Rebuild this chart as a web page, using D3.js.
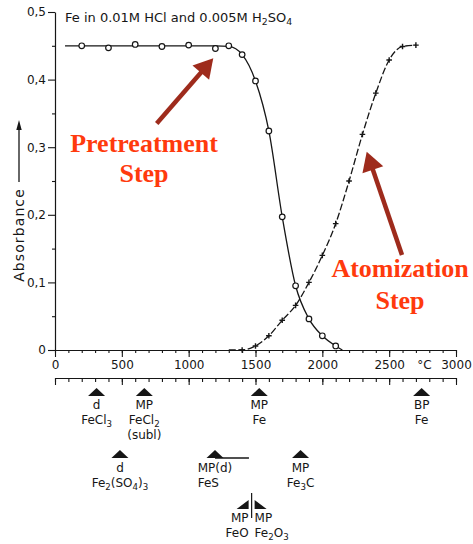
<!DOCTYPE html>
<html>
<head>
<meta charset="utf-8">
<script src="https://cdn.jsdelivr.net/npm/d3@7"></script>
<style>
html,body{margin:0;padding:0;background:#fff;}
svg{display:block;}
</style>
</head>
<body>
<div id="chart"></div>
<script>
// ---------- data ----------
const xTicks = [0, 500, 1000, 1500, 2000, 2500, 3000];
const xTickLabels = ["0", "500", "1000", "1500", "2000", "2500", "3000"];
const xMinorTicks = d3.range(0, 3001, 100);
const yTicks = [0, 0.1, 0.2, 0.3, 0.4, 0.5];
const yTickLabels = ["0", "0,1", "0,2", "0,3", "0,4", "0,5"];
const yMinorTicks = [0.05, 0.15, 0.25, 0.35, 0.45];

// Pretreatment curve (open circles)
const pretreatT = [200, 400, 600, 800, 1000, 1200, 1300, 1400, 1500, 1600, 1700, 1800, 1900, 2000, 2100];
const pretreatA = [0.450, 0.447, 0.452, 0.449, 0.451, 0.446, 0.450, 0.437, 0.398, 0.324, 0.197, 0.095, 0.046, 0.021, 0.006];
// fitted line through the pretreatment points
const pretreatFitT = [75, 1200, 1300, 1400, 1500, 1600, 1700, 1800, 1900, 2000, 2100, 2150];
const pretreatFitA = [0.450, 0.450, 0.449, 0.437, 0.398, 0.324, 0.197, 0.095, 0.046, 0.021, 0.006, 0.000];

// Atomization curve (crosses)
const atomT = [1400, 1500, 1600, 1700, 1800, 1900, 2000, 2100, 2200, 2300, 2400, 2500, 2600, 2700];
const atomA = [0.000, 0.006, 0.021, 0.044, 0.066, 0.100, 0.140, 0.187, 0.250, 0.319, 0.380, 0.429, 0.449, 0.451];
const atomFitT = [1300, 1400, 1500, 1600, 1700, 1800, 1900, 2000, 2100, 2200, 2300, 2400, 2500, 2600, 2700];
const atomFitA = [0.000, 0.000, 0.006, 0.021, 0.044, 0.066, 0.100, 0.140, 0.187, 0.250, 0.319, 0.380, 0.429, 0.449, 0.451];

// Phase-transition markers under the temperature axis
const phaseTemps = [311, 668, 1528, 2743, 486, 1197, 1837];
const phaseRows = [0, 0, 0, 0, 1, 1, 1];
const phaseLine1 = ["d", "MP", "MP", "BP", "d", "MP(d)", "MP"];
const phaseLine2 = ["FeCl_3", "FeCl_2", "Fe", "Fe", "Fe_2(SO_4)_3", "FeS", "Fe_3C"];
const phaseLine3 = ["", "(subl)", "", "", "", "", ""];
const fesRangeEnd = 1451;
const splitTemp = 1471;
const splitLeft = ["MP", "FeO"];
const splitRight = ["MP", "Fe_2O_3"];

// annotation texts & arrows (data coordinates)
const redLabels = [
  {text: "Pretreatment", t: 666, a: 0.293},
  {text: "Step", t: 666, a: 0.2485},
  {text: "Atomization", t: 2581, a: 0.108},
  {text: "Step", t: 2581, a: 0.0607}
];
const arrowsData = [
  {t0: 761, a0: 0.335, t1: 1184, a1: 0.4315},
  {t0: 2596, a0: 0.1405, t1: 2332, a1: 0.2933}
];
const titleText = "Fe in 0.01M HCl and 0.005M H_2SO_4";

// ---------- drawing ----------
const W = 473, H = 544;
const FONT = "DejaVu Sans";
const INK = "#161616";
const svg = d3.select("#chart").append("svg").attr("width", W).attr("height", H);

const x = d3.scaleLinear().domain([0, 3000]).range([55, 456]);
const y = d3.scaleLinear().domain([0, 0.5]).range([350, 12]);

function richText(sel, str, size) {
  const parts = str.split(/(_\d)/).filter(p => p);
  const sh = size * 0.25;
  let pending = 0;
  parts.forEach(p => {
    if (p[0] === "_") {
      sel.append("tspan").attr("font-size", size * 0.72).attr("dy", sh + pending).text(p[1]);
      pending = -sh;
    } else {
      const ts = sel.append("tspan").text(p);
      if (pending) ts.attr("dy", pending);
      pending = 0;
    }
  });
  return sel;
}

function styleAxis(g) {
  g.selectAll(".domain").attr("stroke", INK).attr("stroke-width", 1.2);
  g.selectAll(".tick line").attr("stroke", INK).attr("stroke-width", 1.1);
  g.selectAll("text").attr("fill", INK).attr("font-family", FONT).attr("font-size", 12);
}

// Y axis
const gy = svg.append("g").attr("transform", `translate(${x(0)},0)`)
  .call(d3.axisLeft(y).tickValues(yTicks).tickSize(7).tickSizeOuter(0).tickPadding(2)
    .tickFormat((d, i) => yTickLabels[i]));
styleAxis(gy);
const gyMinor = svg.append("g").attr("transform", `translate(${x(0)},0)`)
  .call(d3.axisLeft(y).tickValues(yMinorTicks).tickSize(3).tickSizeOuter(0).tickFormat(""));
styleAxis(gyMinor);
gyMinor.select(".domain").remove();

// X axis (top)
const gx = svg.append("g").attr("transform", `translate(0,${y(0)})`)
  .call(d3.axisBottom(x).tickValues(xTicks).tickSize(7).tickSizeOuter(0).tickPadding(3)
    .tickFormat((d, i) => xTickLabels[i]));
styleAxis(gx);
const gxMinor = svg.append("g").attr("transform", `translate(0,${y(0)})`)
  .call(d3.axisBottom(x).tickValues(xMinorTicks).tickSize(3).tickSizeOuter(0).tickFormat(""));
styleAxis(gxMinor);
gxMinor.select(".domain").remove();
svg.append("text").attr("x", x(2763)).attr("y", y(0) + 10).attr("dy", "0.71em")
  .attr("text-anchor", "middle").attr("font-family", FONT).attr("font-size", 12).attr("fill", INK)
  .text("\u00B0C");

// X axis (lower, phase scale)
const lowerY = 378;
const gx2 = svg.append("g").attr("transform", `translate(0,${lowerY})`)
  .call(d3.axisBottom(x).tickValues(xTicks).tickSize(7).tickSizeOuter(0).tickFormat(""));
styleAxis(gx2);
const gx2Minor = svg.append("g").attr("transform", `translate(0,${lowerY})`)
  .call(d3.axisBottom(x).tickValues(xMinorTicks).tickSize(4).tickSizeOuter(0).tickFormat(""));
styleAxis(gx2Minor);
gx2Minor.select(".domain").remove();

// Y axis title with arrow
svg.append("text")
  .attr("transform", `translate(24,235) rotate(-90)`)
  .attr("text-anchor", "middle").attr("font-family", FONT).attr("font-size", 14)
  .attr("letter-spacing", 1.1).attr("fill", INK).text("Absorbance");
svg.append("line").attr("x1", 19).attr("x2", 19).attr("y1", 182).attr("y2", 128)
  .attr("stroke", INK).attr("stroke-width", 1.3);
svg.append("path").attr("d", "M19,120 L16.3,130 L21.7,130 Z").attr("fill", INK);

// Title
richText(svg.append("text").attr("x", 65).attr("y", 22).attr("font-family", FONT)
  .attr("font-size", 13).attr("fill", INK), titleText, 13);

// Curves
const line = d3.line().x(d => x(d[0])).y(d => y(d[1])).curve(d3.curveMonotoneX);
svg.append("path").datum(pretreatFitT.map((t, i) => [t, pretreatFitA[i]]))
  .attr("d", line).attr("fill", "none").attr("stroke", INK).attr("stroke-width", 1.3);
svg.append("path").datum(atomFitT.map((t, i) => [t, atomFitA[i]]))
  .attr("d", line).attr("fill", "none").attr("stroke", INK).attr("stroke-width", 1.3)
  .attr("stroke-dasharray", "7,2.5");

// markers
svg.append("g").selectAll("circle").data(pretreatT.map((t, i) => [t, pretreatA[i]]))
  .join("circle").attr("cx", d => x(d[0])).attr("cy", d => y(d[1])).attr("r", 2.8)
  .attr("fill", "#fff").attr("stroke", INK).attr("stroke-width", 1.2);
svg.append("g").selectAll("path").data(atomT.map((t, i) => [t, atomA[i]]))
  .join("path").attr("d", d => {
    const cx = x(d[0]), cy = y(d[1]), s = 2.8;
    return `M${cx - s},${cy}H${cx + s}M${cx},${cy - s}V${cy + s}`;
  }).attr("stroke", INK).attr("stroke-width", 1.4);

// Phase markers
const rowTri = [[388, 396], [450, 458]];
const rowText = [[409, 424, 438], [472, 487, 501]];
function tri(cx, top, base, w) {
  return `M${cx},${top} L${cx + w / 2},${base} L${cx - w / 2},${base} Z`;
}
phaseTemps.forEach((t, i) => {
  const r = phaseRows[i], cx = x(t);
  svg.append("path").attr("d", tri(cx, rowTri[r][0], rowTri[r][1], 17)).attr("fill", INK);
  const t1 = svg.append("text").attr("x", cx).attr("y", rowText[r][0]).attr("text-anchor", "middle")
    .attr("font-family", FONT).attr("font-size", 12).attr("fill", INK).text(phaseLine1[i]);
  let x2 = cx, anchor = "middle";
  if (phaseLine1[i] === "MP(d)") {
    x2 = cx - t1.node().getComputedTextLength() / 2; anchor = "start";
  }
  richText(svg.append("text").attr("x", x2).attr("y", rowText[r][1]).attr("text-anchor", anchor)
    .attr("font-family", FONT).attr("font-size", 12).attr("fill", INK), phaseLine2[i], 12);
  if (phaseLine3[i]) {
    svg.append("text").attr("x", cx).attr("y", rowText[r][2] + 1).attr("text-anchor", "middle")
      .attr("font-family", FONT).attr("font-size", 12).attr("fill", INK).text(phaseLine3[i]);
  }
});
// FeS range line
svg.append("line").attr("x1", x(1197)).attr("x2", x(fesRangeEnd)).attr("y1", 458).attr("y2", 458)
  .attr("stroke", INK).attr("stroke-width", 1.3);

// split marker FeO / Fe2O3
const sx = x(splitTemp);
svg.append("line").attr("x1", sx).attr("x2", sx).attr("y1", 493).attr("y2", 518)
  .attr("stroke", INK).attr("stroke-width", 1.2);
svg.append("path").attr("d", `M${sx - 15},509 L${sx - 3},500 L${sx - 3},509 Z`).attr("fill", INK);
svg.append("path").attr("d", `M${sx + 3},500 L${sx + 15},509 L${sx + 3},509 Z`).attr("fill", INK);
splitLeft.forEach((s, i) => {
  richText(svg.append("text").attr("x", sx - 3).attr("y", 522 + i * 15).attr("text-anchor", "end")
    .attr("font-family", FONT).attr("font-size", 12).attr("fill", INK), s, 12);
});
splitRight.forEach((s, i) => {
  richText(svg.append("text").attr("x", sx + 3).attr("y", 522 + i * 15).attr("text-anchor", "start")
    .attr("font-family", FONT).attr("font-size", 12).attr("fill", INK), s, 12);
});

// Red annotations
const RED = "#ff3a0d", ARROW = "#9e2b1c";
redLabels.forEach(d => {
  svg.append("text").attr("x", x(d.t)).attr("y", y(d.a)).attr("text-anchor", "middle")
    .attr("font-family", "Liberation Serif").attr("font-weight", "bold").attr("font-size", 26)
    .attr("fill", RED).text(d.text);
});
arrowsData.forEach(d => {
  const x0 = x(d.t0), y0 = y(d.a0), x1 = x(d.t1), y1 = y(d.a1);
  const dx = x1 - x0, dy = y1 - y0, L = Math.hypot(dx, dy);
  const ux = dx / L, uy = dy / L, px = -uy, py = ux;
  const hl = 19, hw = 11;
  const bx = x1 - ux * hl, by = y1 - uy * hl;
  svg.append("line").attr("x1", x0).attr("y1", y0).attr("x2", bx + ux * 2).attr("y2", by + uy * 2)
    .attr("stroke", ARROW).attr("stroke-width", 4.5);
  svg.append("path").attr("d",
    `M${x1},${y1} L${bx + px * hw},${by + py * hw} L${bx - px * hw},${by - py * hw} Z`)
    .attr("fill", ARROW);
});
</script>
</body>
</html>
